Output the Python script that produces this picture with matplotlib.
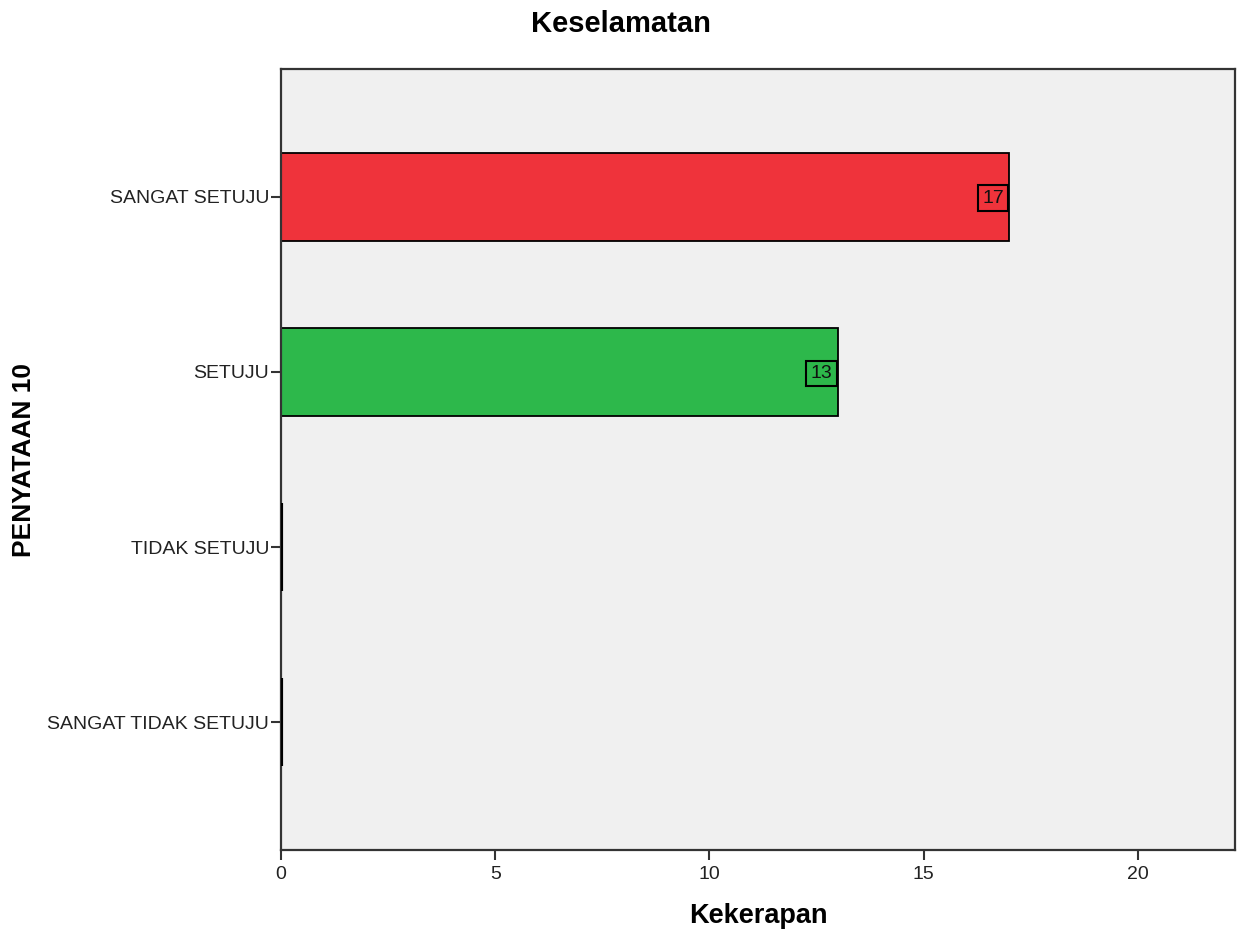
import matplotlib
matplotlib.use("Agg")
import matplotlib.pyplot as plt

categories = ["SANGAT TIDAK SETUJU", "TIDAK SETUJU", "SETUJU", "SANGAT SETUJU"]
counts = [0, 0, 13, 17]
colors = ["#3E58AC", "#D2D248", "#2DB84B", "#EF333B"]
xticks = [0, 5, 10, 15, 20]

plt.rcParams['font.family'] = ['Liberation Sans', 'DejaVu Sans']

fig = plt.figure(figsize=(12.44, 9.39), dpi=100)
ax = fig.add_axes([281/1244, 1-850/939, (1235-281)/1244, (850-69)/939])
ax.set_facecolor("#F0F0F0")

ypos = list(range(len(categories)))
bars = ax.barh(ypos, counts, height=0.5, color=colors, edgecolor="black", linewidth=1.3)
for b, v in zip(bars, counts):
    if v == 0:
        b.set_linewidth(3)
        b.set_zorder(3)

fs_lab = 14
pad = 0.22
for y, v in zip(ypos, counts):
    if v > 0:
        ax.annotate(str(v), xy=(v, y), xytext=(-pad*fs_lab - 0.8, -1), textcoords="offset points",
                    ha="right", va="center", fontsize=fs_lab, color="#111111",
                    bbox=dict(boxstyle=f"square,pad={pad}", fc="none", ec="black", lw=1.5))

ax.set_xlim(0, 22.27)
ax.set_ylim(-0.73, 3.73)
ax.set_xticks(xticks)
ax.set_xticklabels([str(t) for t in xticks], fontsize=14, color="#222222")
ax.set_yticks(ypos)
ax.set_yticklabels(categories, fontsize=14, color="#222222")
ax.tick_params(axis="both", direction="out", length=7.5, width=1.5, color="#333333")
ax.tick_params(axis="y", pad=1)
ax.tick_params(axis="x", pad=4)

for s in ax.spines.values():
    s.set_linewidth(1.6)
    s.set_color("#333333")

ax.set_xlabel("Kekerapan", fontsize=19.5, fontweight="bold", va="center")
ax.xaxis.set_label_coords(0.5, (850-916)/781)
ax.set_ylabel("PENYATAAN 10", fontsize=19, fontweight="bold", va="center")
ax.yaxis.set_label_coords((24-281)/954, 0.5)
fig.text(621/1244, 1-24/939, "Keselamatan", ha="center", va="center", fontsize=21, fontweight="bold")

fig.savefig("out.png", dpi=100, facecolor="white")
